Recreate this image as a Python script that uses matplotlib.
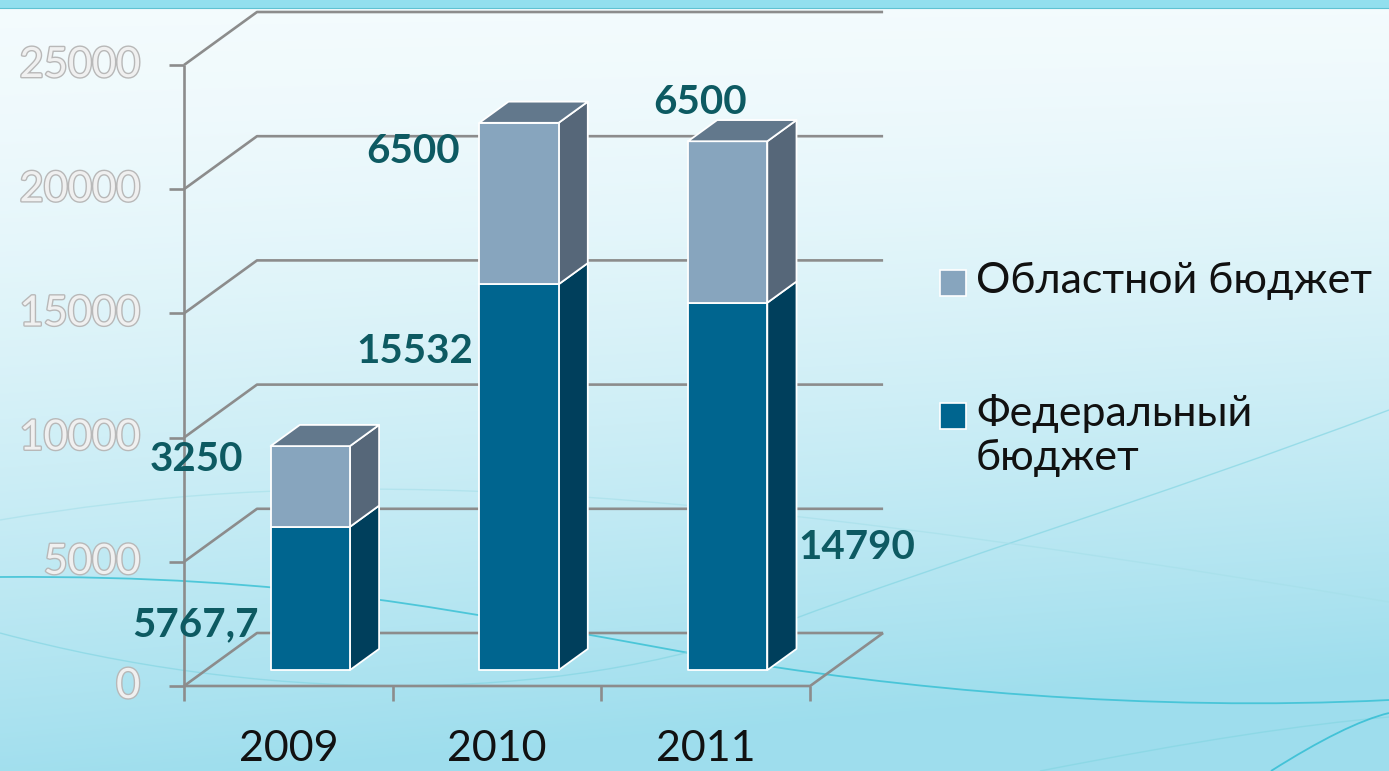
import numpy as np
import matplotlib
matplotlib.use("Agg")
import matplotlib.pyplot as plt
from matplotlib.patches import Polygon, Rectangle, PathPatch
from matplotlib.path import Path
import matplotlib.patheffects as pe

# data
years = ["2009", "2010", "2011"]
federal = [5767.7, 15532, 14790]
oblast = [3250, 6500, 6500]
federal_labels = ["5767,7", "15532", "14790"]
oblast_labels = ["3250", "6500", "6500"]
yticks = [0, 5000, 10000, 15000, 20000, 25000]
legend_names = ["Областной бюджет", "Федеральный\nбюджет"]

# colours
c_fed = "#00658f"
c_fed_side = "#003f5c"
c_obl = "#87a5be"
c_obl_side = "#566779"
c_obl_top = "#62788c"
c_grid = "#8c8c8c"
c_label = "#0d5a62"

W, H = 1389, 771
fig = plt.figure(figsize=(W / 100, H / 100), dpi=100)

# background gradient
bg = fig.add_axes([0, 0, 1, 1])
yy, xx = np.mgrid[0:1:200j, 0:1:200j]
t = np.clip(yy ** 1.5 * 0.95 + xx * yy * 0.25, 0, 1)
top = np.array([0.955, 0.985, 0.993])
bot = np.array([0.62, 0.87, 0.93])
img = top[None, None, :] * (1 - t[..., None]) + bot[None, None, :] * t[..., None]
bg.imshow(img, extent=[0, W, H, 0], aspect="auto", interpolation="bilinear")
bg.add_patch(Rectangle((0, 0), W, 8, color="#92dfee", lw=0))
bg.plot([0, W], [8, 8], color="#5fc2d2", lw=0.8)


def wave(pts, **kw):
    codes = [Path.MOVETO] + [Path.CURVE4] * (len(pts) - 1)
    bg.add_patch(PathPatch(Path(pts, codes), fc="none", **kw))


# decorative waves
wave([(0, 577), (300, 575), (450, 610), (700, 655), (900, 690), (1150, 712), (1389, 700)],
     ec="#33bfd3", lw=1.3, alpha=0.8)
wave([(0, 633), (250, 700), (550, 710), (783, 623), (950, 560), (1150, 500), (1389, 410)],
     ec="#86d6e3", lw=1.0, alpha=0.7)
wave([(0, 520), (300, 470), (600, 470), (1389, 602)], ec="#a5dfe9", lw=1.0, alpha=0.6)
wave([(1040, 771), (1200, 740), (1300, 725), (1389, 717)], ec="#86d6e3", lw=1.0, alpha=0.7)
wave([(1271, 771), (1320, 740), (1360, 720), (1389, 713)], ec="#2cbcd2", lw=1.3, alpha=0.8)
bg.set_xlim(0, W)
bg.set_ylim(H, 0)
bg.axis("off")

# main axes (category x value), front origin at pixel (184, 686)
ax = fig.add_axes([0, 0, 1, 1])
ax.patch.set_alpha(0)
cat_px = 208.7
val_px = 124.2 / 5000
x0, y0 = 184, 686
ax.set_xlim(-x0 / cat_px, (W - x0) / cat_px)
ax.set_ylim(-(H - y0) / val_px, y0 / val_px)
ax.axis("off")

DX = 73 / cat_px
DY = 53 / val_px
n = len(years)
ymax = yticks[-1]


def proj(c, v, f):
    return c + f * DX, v + f * DY


gkw = dict(color=c_grid, lw=1.9, solid_capstyle="butt", zorder=1)
for v in yticks:
    a = proj(0, v, 0)
    b = proj(0, v, 1)
    e = proj(n, v, 1)
    ax.plot([a[0], b[0], e[0]], [a[1], b[1], e[1]], **gkw)
    ax.plot([-0.07, 0], [v, v], **gkw)
ax.plot([0, 0], [-600, ymax], **gkw)
fr = proj(n, 0, 1)
ax.plot([0, n, fr[0]], [0, 0, fr[1]], **gkw)
for i in range(1, n + 1):
    ax.plot([i, i], [0, -600], **gkw)

# bars
f1, f2 = 0.3, 0.7
bw = 0.38
ekw = dict(ec="white", lw=1.3, joinstyle="round", zorder=3)
for i in range(n):
    c0 = i + 0.5 - bw / 2
    c1 = i + 0.5 + bw / 2
    segs = [(0, federal[i], c_fed, c_fed_side),
            (federal[i], federal[i] + oblast[i], c_obl, c_obl_side)]
    for lo, hi, cf, cs in segs:
        front = [proj(c0, lo, f1), proj(c1, lo, f1), proj(c1, hi, f1), proj(c0, hi, f1)]
        side = [proj(c1, lo, f1), proj(c1, lo, f2), proj(c1, hi, f2), proj(c1, hi, f1)]
        ax.add_patch(Polygon(side, fc=cs, **ekw))
        ax.add_patch(Polygon(front, fc=cf, **ekw))
    topv = federal[i] + oblast[i]
    topf = [proj(c0, topv, f1), proj(c1, topv, f1), proj(c1, topv, f2), proj(c0, topv, f2)]
    ax.add_patch(Polygon(topf, fc=c_obl_top, **ekw))

# value labels (placement as in the original slide)
fed_pos = [(0.053, 2456), (1.107, 13447), (3.225, 5556)]
obl_pos = [(0.062, 9099), (1.097, 21499), (2.472, 23471)]
lkw = dict(color=c_label, fontsize=29, fontweight="bold", family="Lato",
           ha="center", va="center", zorder=5)
for i in range(n):
    ax.text(*fed_pos[i], federal_labels[i], **lkw)
    ax.text(*obl_pos[i], oblast_labels[i], **lkw)

# y tick labels (outlined)
for v in yticks:
    ax.text(-0.21, v, str(v), ha="right", va="center", fontsize=30, family="Lato",
            color="#f0f0f0",
            path_effects=[pe.withStroke(linewidth=2.0, foreground="#b8b8b8")], zorder=4)

# category labels
for i, yr in enumerate(years):
    ax.text(i + 0.5, -2550, yr, ha="center", va="center", fontsize=31, family="Lato",
            color="#111111")

# legend
leg_cols = [c_obl, c_fed]
leg_y = [283, 416]
for name, col, py in zip(legend_names, leg_cols, leg_y):
    fig.patches.append(Rectangle((940 / W, 1 - (py + 13) / H), 26 / W, 26 / H,
                                 transform=fig.transFigure, fc=col, ec="white", lw=1.2))
    multi = "\n" in name
    fig.text(976 / W, 1 - (py - 22 if multi else py - 2) / H, name, ha="left",
             va="top" if multi else "center",
             fontsize=31, family="Lato", color="#111111", linespacing=1.2)

fig.savefig("out.png", dpi=100)
